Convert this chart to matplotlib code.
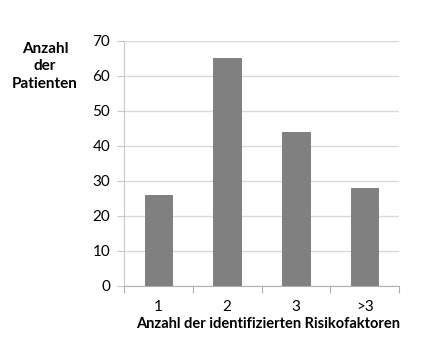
import matplotlib.pyplot as plt
import numpy as np

categories = ["1", "2", "3", ">3"]
patients = [26, 65, 44, 28]

plt.rcParams['font.family'] = ['Lato', 'DejaVu Sans']

fig = plt.figure(figsize=(4.25, 3.5), dpi=100)
ax = fig.add_axes([0.292, 0.183, 0.647, 0.700])

x = np.arange(len(categories))
ax.bar(x, patients, width=0.4, color="#808080", edgecolor="#767676", linewidth=0.6, zorder=3)

ax.set_xlim(-0.5, len(categories) - 0.5)
ax.set_ylim(0, 70)
ax.set_yticks(range(0, 71, 10))
ax.tick_params(axis="y", length=5, color="#c8c8c8", labelsize=11, pad=5)
ax.grid(axis="y", color="#d9d9d9", linewidth=1, zorder=0)

# boundary ticks as major, labels on minor ticks at the centres
ax.set_xticks(np.arange(-0.5, len(categories), 1.0))
ax.set_xticklabels([])
ax.set_xticks(x, minor=True)
ax.set_xticklabels(categories, minor=True)
ax.tick_params(axis="x", which="major", length=5, color="#b0b0b0")
ax.tick_params(axis="x", which="minor", length=0, labelsize=11, pad=10)

for side in ["top", "right"]:
    ax.spines[side].set_visible(False)
ax.spines["left"].set_color("#c8c8c8")
ax.spines["bottom"].set_color("#b0b0b0")

ax.set_xlabel("Anzahl der identifizierten Risikofaktoren", fontsize=10.5, fontweight="bold")
ax.xaxis.set_label_coords(0.525, -0.128)
fig.text(0.106, 0.81, "Anzahl\nder\nPatienten", ha="center", va="center",
         fontsize=11, fontweight="bold", linespacing=1.3)

fig.savefig("out.png")
